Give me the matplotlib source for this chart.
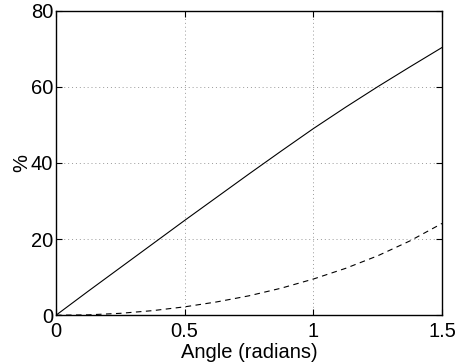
import matplotlib
matplotlib.use('Agg')
import matplotlib.pyplot as plt

# valeurs
angle = [0, 0.125, 0.25, 0.375, 0.5, 0.625, 0.75, 0.875, 1.0, 1.125, 1.25, 1.375, 1.5]
courbe_pleine = [0, 6.3, 12.5, 18.7, 24.9, 31.0, 37.1, 43.1, 49.0, 54.6, 60.0, 65.2, 70.3]
courbe_tirets = [0, 0.1, 0.5, 1.2, 2.2, 3.5, 5.1, 7.1, 9.5, 12.3, 15.6, 19.5, 24.1]

x_ticks = [0, 0.5, 1, 1.5]
x_labels = ['0', '0.5', '1', '1.5']
y_ticks = [0, 20, 40, 60, 80]

plt.rcParams['font.family'] = ['Liberation Sans', 'DejaVu Sans']

fig = plt.figure(figsize=(4.59, 3.64), dpi=100)
ax = fig.add_axes([0.122, 0.134, 0.841, 0.837])

ax.plot(angle, courbe_pleine, color='black', linestyle='-', linewidth=0.8)
ax.plot(angle, courbe_tirets, color='black', linestyle=(0, (5, 4)), linewidth=0.8)

ax.set_xlim(0, 1.5)
ax.set_ylim(0, 80)
ax.set_xticks(x_ticks)
ax.set_xticklabels(x_labels)
ax.set_yticks(y_ticks)
ax.tick_params(direction='in', length=4, width=0.8, labelsize=14.5,
               top=True, right=True)
ax.tick_params(axis='x', pad=5)
ax.tick_params(axis='y', pad=2)
ax.grid(True, linestyle=(0, (1, 3)), color='#999999', linewidth=0.7)

for s in ax.spines.values():
    s.set_linewidth(1.0)

ax.set_xlabel('Angle (radians)', fontsize=14.5, labelpad=1)
ax.set_ylabel('%', fontsize=14.5, labelpad=0)

fig.savefig('out.png', dpi=100)
